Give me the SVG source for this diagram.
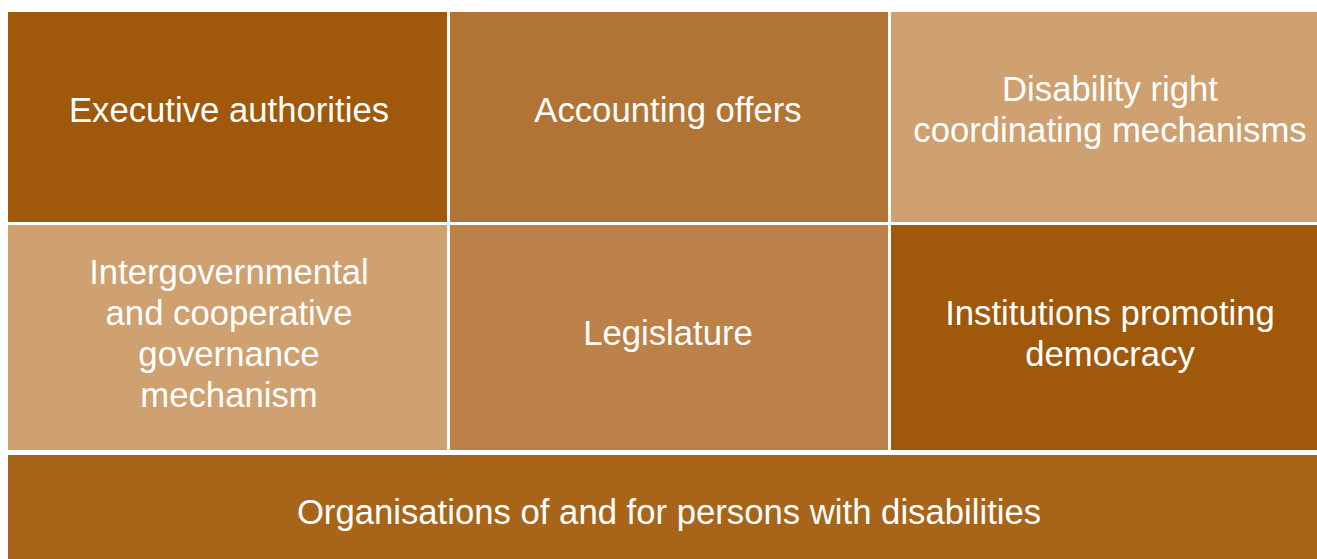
<svg xmlns="http://www.w3.org/2000/svg" width="1317" height="559" viewBox="0 0 1317 559">
<style>
text{font-family:"Liberation Sans",Arial,sans-serif;font-size:34.7px;fill:#ffffff;text-anchor:middle}
.dark{fill:#A0580A}
.mid{fill:#B17434}
.light{fill:#CFA070}
.leg{fill:#BC8148}
.bot{fill:#A8651A}
</style>
<rect width="1317" height="559" fill="#ffffff"/>
<g id="executive"><rect class="dark" x="8" y="12" width="439" height="210"/><text x="229" y="122">Executive authorities</text></g>
<g id="accounting"><rect class="mid" x="450" y="12" width="438" height="210"/><text x="668" y="122">Accounting offers</text></g>
<g id="disability"><rect class="light" x="891" y="12" width="426" height="210"/><text x="1110" y="101">Disability right</text><text x="1110" y="142">coordinating mechanisms</text></g>
<g id="intergovernmental"><rect class="light" x="8" y="225" width="439" height="225"/><text x="229" y="284">Intergovernmental</text><text x="229" y="325">and cooperative</text><text x="229" y="366">governance</text><text x="229" y="407">mechanism</text></g>
<g id="legislature"><rect class="leg" x="450" y="225" width="438" height="225"/><text x="668" y="345">Legislature</text></g>
<g id="institutions"><rect class="dark" x="891" y="225" width="426" height="225"/><text x="1110" y="325">Institutions promoting</text><text x="1110" y="366">democracy</text></g>
<g id="organisations"><rect class="bot" x="8" y="455" width="1309" height="104"/><text x="669" y="524">Organisations of and for persons with disabilities</text></g>
<g id="connectors"></g>
</svg>
